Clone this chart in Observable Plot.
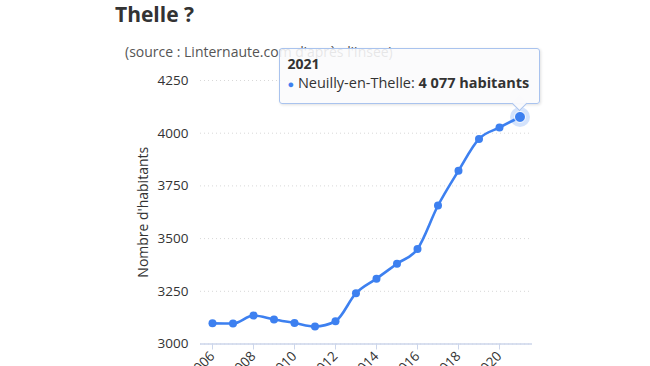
<!DOCTYPE html>
<html><head><meta charset="utf-8">
<script src="https://cdn.jsdelivr.net/npm/d3@7"></script>
<script src="https://cdn.jsdelivr.net/npm/@observablehq/plot@0.6"></script>
<style>
body{margin:0;background:#fff;font-family:"Open Sans",sans-serif;}
#wrap{position:relative;width:650px;height:366px;overflow:hidden;background:#fff;}
#wrap svg{position:absolute;left:0;top:0;}
#title{position:absolute;left:115px;top:0px;font-size:21px;font-weight:700;color:#333;white-space:nowrap;}
#subtitle{position:absolute;left:125px;top:42px;font-size:14px;color:#555;white-space:nowrap;}
#tip{position:absolute;box-sizing:border-box;background:rgba(250,250,252,0.88);border:1px solid #a9c3ee;border-radius:3px;box-shadow:1px 1px 3px rgba(0,0,0,0.12);padding:5px 7px;font-size:14.5px;color:#333;white-space:nowrap;}
#tip .yr{font-weight:700;font-size:14px;line-height:19px;}
#tip .row{line-height:20px;}
#tip .dot{color:#3d80f0;font-size:11px;}
#arrow{position:absolute;width:10px;height:10px;background:rgba(250,250,252,0.95);border-right:1px solid #a9c3ee;border-bottom:1px solid #a9c3ee;transform:rotate(45deg);}
</style></head>
<body>
<div id="wrap"></div>
<script>
const years = [2006,2007,2008,2009,2010,2011,2012,2013,2014,2015,2016,2017,2018,2019,2020,2021];
const population = [3098,3097,3135,3116,3100,3083,3108,3241,3310,3381,3451,3657,3822,3973,4027,4077];
const yTicks = [3000,3250,3500,3750,4000,4250];
const xTicks = [2006,2008,2010,2012,2014,2016,2018,2020];
const commune = "Neuilly-en-Thelle";
const titleText = "Thelle ?";
const subtitleText = "(source : Linternaute.com d'après l'Insee)";
const yLabel = "Nombre d'habitants";
const unit = "habitants";

const data = years.map((y,i)=>({year:y, value:population[i]}));
const last = data[data.length-1];
const color = "#3d80f0";

const plot = Plot.plot({
  width:650, height:366,
  marginLeft:200, marginRight:118, marginTop:80, marginBottom:22.5,
  style:{fontFamily:"'Open Sans',sans-serif", fontSize:"13.5px", color:"#333", background:"transparent"},
  x:{domain:[2005.415,2021.61]},
  y:{domain:[3000,4250]},
  marks:[
    Plot.gridY(yTicks,{stroke:"#d8d8d8", strokeOpacity:1, strokeDasharray:"1,3"}),
    Plot.ruleY([3000],{stroke:"#ccd6eb", strokeWidth:1.5}),
    Plot.axisY(yTicks,{tickSize:0, tickPadding:12, tickFormat:d=>String(d), label:null, fontSize:13.5}),
    Plot.axisY({tickSize:0, ticks:[], label:yLabel, labelArrow:"none", labelAnchor:"center", labelOffset:62, fontSize:14}),
    Plot.axisX(xTicks,{tickSize:6, stroke:"#ccd6eb", tickRotate:-45, tickFormat:d=>String(d), label:null, tickPadding:4, fontSize:13.5}),
    Plot.line(data,{x:"year", y:"value", stroke:color, strokeWidth:2.6, curve:"monotone-x"}),
    Plot.dot(data,{x:"year", y:"value", r:4, fill:color}),
    Plot.dot([last],{x:"year", y:"value", r:10, fill:color, fillOpacity:0.22}),
    Plot.dot([last],{x:"year", y:"value", r:5.5, fill:color, stroke:"#fff", strokeWidth:1})
  ]
});
const wrap = document.getElementById("wrap");
wrap.appendChild(plot);

const t = document.createElement("div"); t.id="title"; t.textContent=titleText; wrap.appendChild(t);
const s = document.createElement("div"); s.id="subtitle"; s.textContent=subtitleText; wrap.appendChild(s);

const px = plot.scale("x").apply(last.year), py = plot.scale("y").apply(last.value);
const tip = document.createElement("div"); tip.id="tip";
const fmt = d3.format(",")(last.value).replace(/,/g," ");
tip.innerHTML = `<div class="yr">${last.year}</div><div class="row"><span class="dot">●</span> ${commune}: <b>${fmt} ${unit}</b></div>`;
const w=261, h=56;
tip.style.width=w+"px"; tip.style.height=h+"px";
tip.style.left=(px+21-w)+"px"; tip.style.top=(py-12-h)+"px";
wrap.appendChild(tip);
const ar = document.createElement("div"); ar.id="arrow";
ar.style.left=(px-5)+"px"; ar.style.top=(py-12-6)+"px";
wrap.appendChild(ar);
</script>
</body></html>
